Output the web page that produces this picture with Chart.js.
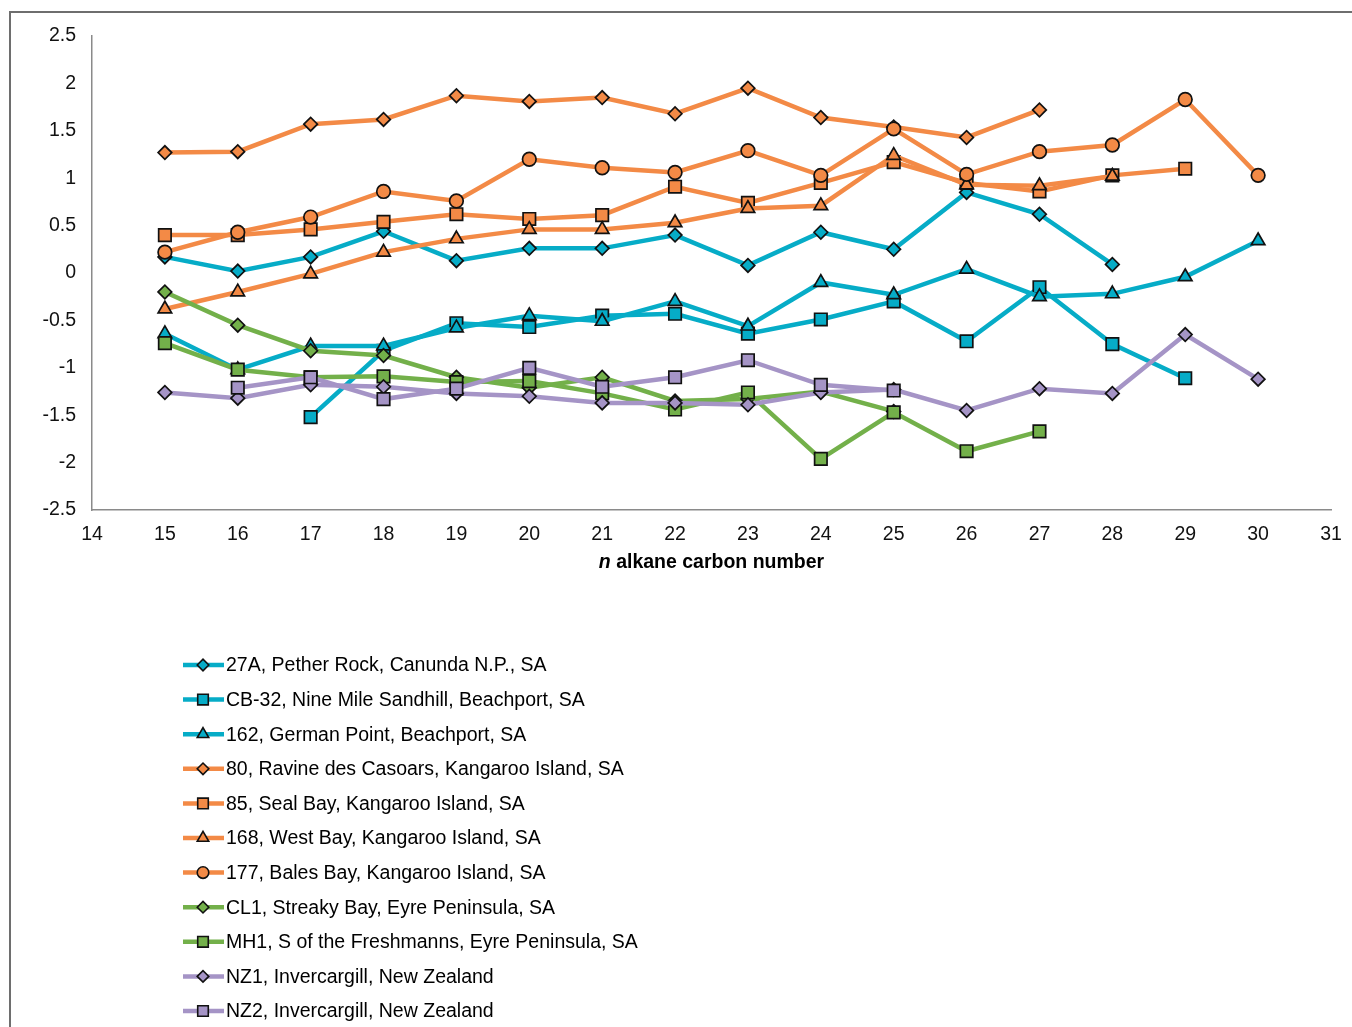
<!DOCTYPE html>
<html>
<head>
<meta charset="utf-8">
<script src="https://cdn.jsdelivr.net/npm/chart.js@4.4.1/dist/chart.umd.min.js"></script>
<style>
  html, body { margin: 0; padding: 0; background: #fff; }
  #wrap { position: relative; width: 1352px; height: 1027px; overflow: hidden; }
  #frame { position: absolute; left: 9px; top: 11px; width: 1400px; height: 1100px;
           border-left: 2px solid #6e6e6e; border-top: 2px solid #6e6e6e; }
  canvas { position: absolute; left: 0; top: 0; }
</style>
</head>
<body>
<div id="wrap">
  <div id="frame"></div>
  <canvas id="chart" width="1352" height="1027"></canvas>
</div>
<script>
// carbon numbers on the x axis (one value per position below)
const carbon = [15, 16, 17, 18, 19, 20, 21, 22, 23, 24, 25, 26, 27, 28, 29, 30];

const s27A  = [0.17, 0.02, 0.17, 0.44, 0.13, 0.26, 0.26, 0.40, 0.08, 0.43, 0.25, 0.85, 0.62, 0.09, null, null];
const sCB32 = [null, null, -1.52, -0.82, -0.53, -0.57, -0.45, -0.43, -0.64, -0.49, -0.30, -0.72, -0.15, -0.75, -1.11, null];
const s162  = [-0.64, -1.02, -0.77, -0.77, -0.58, -0.45, -0.51, -0.30, -0.56, -0.10, -0.23, 0.04, -0.25, -0.22, -0.04, 0.34];
const s80   = [1.27, 1.28, 1.57, 1.62, 1.87, 1.81, 1.85, 1.68, 1.95, 1.64, 1.54, 1.43, 1.72, null, null, null];
const s85   = [0.40, 0.40, 0.46, 0.54, 0.62, 0.57, 0.61, 0.91, 0.74, 0.95, 1.17, 0.95, 0.86, 1.03, 1.10, null];
const s168  = [-0.38, -0.20, -0.01, 0.22, 0.36, 0.46, 0.46, 0.53, 0.68, 0.71, 1.24, 0.93, 0.92, 1.02, null, null];
const s177  = [0.22, 0.43, 0.59, 0.86, 0.76, 1.20, 1.11, 1.06, 1.29, 1.03, 1.52, 1.04, 1.28, 1.35, 1.83, 1.03];
const sCL1  = [-0.20, -0.55, -0.82, -0.87, -1.10, -1.21, -1.10, -1.35, -1.33, -1.25, -1.46, null, null, null, null, null];
const sMH1  = [-0.74, -1.02, -1.10, -1.09, -1.15, -1.14, -1.27, -1.44, -1.26, -1.96, -1.47, -1.88, -1.67, null, null, null];
const sNZ1  = [-1.26, -1.32, -1.18, -1.20, -1.27, -1.30, -1.37, -1.37, -1.39, -1.26, -1.23, -1.45, -1.22, -1.27, -0.65, -1.12];
const sNZ2  = [null, -1.21, -1.10, -1.33, -1.22, -1.00, -1.20, -1.10, -0.92, -1.18, -1.24, null, null, null, null, null];

const seriesNames = [
  '27A, Pether Rock, Canunda N.P., SA',
  'CB-32, Nine Mile Sandhill, Beachport, SA',
  '162, German Point, Beachport, SA',
  '80, Ravine des Casoars, Kangaroo Island, SA',
  '85, Seal Bay, Kangaroo Island, SA',
  '168, West Bay, Kangaroo Island, SA',
  '177, Bales Bay, Kangaroo Island, SA',
  'CL1, Streaky Bay, Eyre Peninsula, SA',
  'MH1, S of the Freshmanns, Eyre Peninsula, SA',
  'NZ1, Invercargill, New Zealand',
  'NZ2, Invercargill, New Zealand'
];
const seriesValues = [s27A, sCB32, s162, s80, s85, s168, s177, sCL1, sMH1, sNZ1, sNZ2];

const yTicks = [2.5, 2, 1.5, 1, 0.5, 0, -0.5, -1, -1.5, -2, -2.5];

const cyan = '#06acc7', orange = '#f38a46', green = '#73b04a', purple = '#a594c6';
const colors = [cyan, cyan, cyan, orange, orange, orange, orange, green, green, purple, purple];
const shapes = ['rectRot', 'rect', 'triangle', 'rectRot', 'rect', 'triangle', 'circle', 'rectRot', 'rect', 'rectRot', 'rect'];
const radius = { rectRot: 6.8, rect: 8.8, triangle: 7.8, circle: 6.8 };

const FONT = '"Liberation Sans", Arial, sans-serif';
const FS = 19.5;

const datasets = seriesValues.map((vals, i) => ({
  label: seriesNames[i],
  data: carbon.map((c, j) => ({ x: c, y: vals[j] })).filter(p => p.y !== null),
  borderColor: colors[i],
  backgroundColor: colors[i],
  borderWidth: 4.5,
  pointStyle: shapes[i],
  pointRadius: radius[shapes[i]],
  pointBackgroundColor: colors[i],
  pointBorderColor: '#111',
  pointBorderWidth: 1.7,
  tension: 0,
  order: seriesValues.length - i
}));

// legend below the plot: line with marker in the middle, then text
const legendPlugin = {
  id: 'lineLegend',
  afterDraw(chart) {
    const ctx = chart.ctx;
    ctx.save();
    ctx.font = FS + 'px ' + FONT;
    ctx.textBaseline = 'middle';
    chart.data.datasets.forEach((ds, i) => {
      const y = 665 + i * 34.6;
      ctx.strokeStyle = ds.borderColor;
      ctx.lineWidth = 4.5;
      ctx.beginPath();
      ctx.moveTo(183, y);
      ctx.lineTo(224, y);
      ctx.stroke();
      ctx.fillStyle = ds.borderColor;
      ctx.strokeStyle = '#111';
      ctx.lineWidth = 1.6;
      Chart.helpers.drawPoint(ctx, {
        pointStyle: ds.pointStyle,
        rotation: 0,
        radius: ds.pointRadius * 0.85,
        borderWidth: 1.6
      }, 203, y);
      ctx.fillStyle = '#000';
      ctx.fillText(ds.label, 226, y + 1);
    });

    // x axis title with italic "n"
    const a = 'n', b = ' alkane carbon number';
    ctx.font = 'italic bold ' + FS + 'px ' + FONT;
    const wa = ctx.measureText(a).width;
    ctx.font = 'bold ' + FS + 'px ' + FONT;
    const wb = ctx.measureText(b).width;
    const x0 = (chart.chartArea.left + chart.chartArea.right) / 2 - (wa + wb) / 2;
    ctx.textAlign = 'left';
    ctx.font = 'italic bold ' + FS + 'px ' + FONT;
    ctx.fillText(a, x0, 563);
    ctx.font = 'bold ' + FS + 'px ' + FONT;
    ctx.fillText(b, x0 + wa, 563);
    ctx.restore();
  }
};

new Chart(document.getElementById('chart'), {
  type: 'line',
  data: { datasets: datasets },
  options: {
    responsive: false,
    animation: false,
    layout: { padding: { left: 0, right: 21, top: 36, bottom: 457 } },
    plugins: { legend: { display: false }, tooltip: { enabled: false } },
    scales: {
      x: {
        type: 'linear',
        min: 14,
        max: 31,
        afterFit: s => { s.height = 60; s.paddingRight = 0; s.paddingLeft = 0; },
        grid: { display: false, drawTicks: false },
        border: { display: true, color: '#8a8a8a', width: 1.5 },
        ticks: { stepSize: 1, padding: 13, color: '#111', font: { family: FONT, size: FS } }
      },
      y: {
        min: -2.5,
        max: 2.5,
        afterFit: s => { s.width = 92; },
        afterBuildTicks: s => { s.ticks = yTicks.map(v => ({ value: v })); },
        grid: { display: false, drawTicks: false },
        border: { display: true, color: '#8a8a8a', width: 1.5 },
        ticks: { padding: 16, color: '#111', font: { family: FONT, size: FS }, callback: v => String(v) }
      }
    }
  },
  plugins: [legendPlugin]
});
</script>
</body>
</html>
